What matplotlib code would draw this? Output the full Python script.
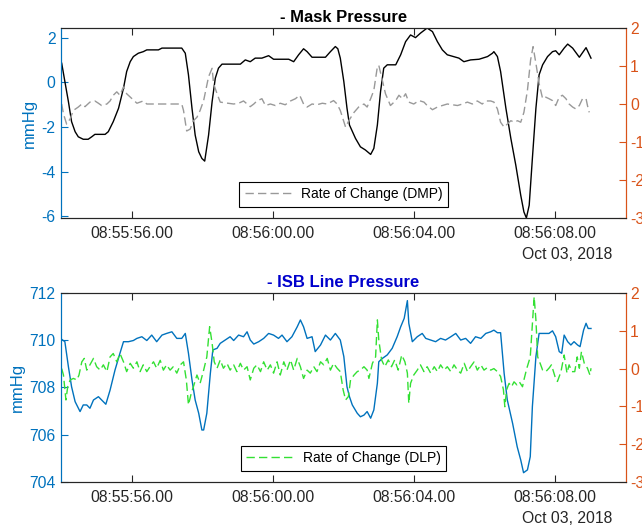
import datetime as dt

import matplotlib
matplotlib.use("Agg")
import matplotlib.pyplot as plt
import matplotlib.dates as mdates

plt.rcParams["font.family"] = ["Liberation Sans", "DejaVu Sans"]
plt.rcParams["axes.unicode_minus"] = False

# seconds after 08:55:54 on Oct 03, 2018
start = dt.datetime(2018, 10, 3, 8, 55, 54)

# mask pressure (mmHg) and its rate of change
mask_t = [0.02, 0.11, 0.21, 0.30, 0.40, 0.49, 0.63, 0.77, 0.87, 0.96, 1.25, 1.34, 1.48, 1.63,
          1.77, 1.86, 1.96, 2.05, 2.19, 2.33, 2.43, 2.76, 2.86, 3.42, 3.52, 3.61, 3.71, 3.80,
          3.90, 3.99, 4.07, 4.18, 4.28, 4.37, 4.46, 4.56, 5.08, 5.22, 5.36, 5.50, 5.69, 5.88,
          6.02, 6.45, 6.59, 6.73, 6.87, 6.97, 7.11, 7.49, 7.63, 7.77, 7.84, 7.91, 8.01, 8.10,
          8.17, 8.34, 8.48, 8.62, 8.77, 8.86, 8.96, 9.05, 9.14, 9.24, 9.48, 9.62, 9.76, 9.90,
          10.04, 10.18, 10.37, 10.52, 10.66, 10.80, 10.94, 11.27, 11.41, 11.60, 11.84, 12.08,
          12.22, 12.26, 12.36, 12.45, 12.60, 12.74, 12.88, 13.02, 13.11, 13.18, 13.26, 13.35,
          13.45, 13.54, 13.64, 13.78, 13.92, 14.01, 14.11, 14.25, 14.35, 14.49, 14.68, 14.87,
          15.01]
mask_v = [0.86, 0.04, -0.86, -1.76, -2.21, -2.44, -2.55, -2.55, -2.44, -2.33, -2.33, -2.21,
          -1.76, -1.16, -0.26, 0.49, 0.93, 1.16, 1.31, 1.38, 1.46, 1.46, 1.54, 1.54, 1.31, 0.34,
          -1.16, -2.36, -3.11, -3.41, -3.53, -2.36, -0.86, 0.19, 0.64, 0.82, 0.82, 1.01, 0.93,
          1.09, 1.09, 1.20, 1.04, 1.04, 0.93, 1.24, 1.51, 1.38, 1.13, 1.13, 1.38, 1.61, 1.51,
          1.09, 0.04, -1.16, -1.91, -2.51, -2.89, -3.03, -3.23, -2.96, -1.91, -0.41, 0.64, 0.79,
          0.79, 1.24, 1.83, 2.13, 2.01, 2.21, 2.44, 2.28, 1.83, 1.46, 1.24, 1.09, 0.93, 1.01,
          1.04, 1.16, 1.31, 1.38, 1.16, 0.49, -1.16, -2.51, -3.71, -5.06, -5.81, -6.08, -5.51,
          -3.41, -1.16, 0.34, 0.79, 1.16, 1.38, 1.42, 1.24, 1.54, 1.72, 1.54, 1.13, 1.56, 1.09]

dmp_t = [0.02, 0.07, 0.16, 0.26, 0.35, 0.49, 0.59, 0.68, 0.82, 0.96, 1.06, 1.15, 1.30, 1.39,
         1.48, 1.58, 1.67, 1.77, 1.86, 2.01, 2.15, 2.24, 2.33, 2.43, 3.42, 3.47, 3.56, 3.66,
         3.75, 3.85, 3.94, 4.04, 4.18, 4.28, 4.32, 4.42, 4.51, 4.65, 4.89, 5.03, 5.17, 5.27,
         5.36, 5.46, 5.55, 5.69, 5.79, 5.93, 6.07, 6.21, 6.35, 6.50, 6.64, 6.76, 6.87, 6.97,
         7.11, 7.25, 7.40, 7.54, 7.72, 7.82, 7.91, 8.06, 8.15, 8.30, 8.43, 8.58, 8.67, 8.77,
         8.86, 8.96, 9.00, 9.10, 9.19, 9.33, 9.48, 9.57, 9.67, 9.76, 9.85, 9.99, 10.14, 10.28,
         10.37, 10.52, 10.66, 10.80, 10.94, 11.08, 11.23, 11.37, 11.51, 11.65, 11.79, 11.93,
         12.03, 12.17, 12.26, 12.36, 12.45, 12.55, 12.64, 12.74, 12.84, 12.93, 13.02, 13.11,
         13.21, 13.30, 13.37, 13.45, 13.54, 13.64, 13.73, 13.82, 13.92, 14.01, 14.11, 14.20,
         14.30, 14.39, 14.49, 14.58, 14.68, 14.77, 14.87, 14.91, 14.96]
dmp_v = [0.0, -0.26, -0.53, -0.39, -0.17, -0.08, 0.0, -0.07, 0.05, 0.08, 0.02, -0.04, 0.0,
         0.08, 0.23, 0.32, 0.23, 0.45, 0.27, 0.14, 0.02, 0.05, 0.08, 0.0, 0.0, -0.17, -0.71,
         -0.66, -0.44, -0.35, -0.17, 0.09, 0.72, 0.94, 0.54, 0.27, 0.05, 0.03, 0.0, 0.02, 0.08,
         0.0, -0.07, 0.0, 0.08, 0.14, -0.04, 0.0, -0.04, 0.02, -0.02, 0.08, 0.14, 0.23, 0.0,
         -0.08, 0.0, -0.02, 0.02, 0.0, 0.09, 0.0, -0.17, -0.61, -0.44, -0.22, -0.08, 0.0,
         -0.08, 0.14, 0.36, 0.98, 1.02, 0.63, 0.27, -0.04, 0.09, 0.23, 0.14, 0.27, 0.05, 0.0,
         0.09, 0.05, -0.04, -0.15, -0.08, -0.04, 0.0, -0.02, -0.04, 0.0, 0.05, 0.0, 0.08, 0.0,
         0.08, 0.08, 0.05, -0.13, -0.48, -0.61, -0.53, -0.44, -0.48, -0.44, -0.48, -0.22,
         0.36, 1.16, 1.51, 1.07, 0.54, 0.14, 0.18, 0.14, 0.09, -0.04, 0.18, 0.23, 0.14, 0.0,
         -0.08, -0.13, -0.04, 0.14, 0.14, -0.04, -0.22]

# ISB line pressure (mmHg) and its rate of change
isb_t = [0.02, 0.11, 0.21, 0.30, 0.40, 0.54, 0.63, 0.73, 0.82, 0.92, 1.06, 1.15, 1.27, 1.39,
         1.53, 1.67, 1.77, 1.91, 2.05, 2.15, 2.29, 2.43, 2.57, 2.71, 2.86, 2.99, 3.14, 3.28,
         3.42, 3.52, 3.61, 3.71, 3.80, 3.90, 3.99, 4.04, 4.13, 4.23, 4.30, 4.42, 4.51, 4.65,
         4.79, 4.89, 5.03, 5.17, 5.27, 5.36, 5.46, 5.60, 5.74, 5.88, 6.02, 6.16, 6.26, 6.40,
         6.54, 6.69, 6.78, 6.87, 6.97, 7.11, 7.20, 7.35, 7.49, 7.63, 7.77, 7.91, 8.01, 8.10,
         8.17, 8.25, 8.39, 8.48, 8.58, 8.67, 8.77, 8.86, 8.96, 9.00, 9.10, 9.24, 9.38, 9.52,
         9.62, 9.72, 9.81, 9.85, 9.95, 10.09, 10.23, 10.33, 10.47, 10.61, 10.75, 10.89, 11.04,
         11.18, 11.32, 11.46, 11.60, 11.74, 11.89, 12.03, 12.17, 12.26, 12.36, 12.45, 12.55,
         12.64, 12.79, 12.92, 13.02, 13.10, 13.21, 13.29, 13.35, 13.45, 13.54, 13.68, 13.82,
         13.92, 14.01, 14.11, 14.18, 14.25, 14.35, 14.44, 14.53, 14.63, 14.70, 14.80, 14.87,
         14.93, 15.01]
isb_v = [710.04, 709.94, 708.88, 708.03, 707.40, 706.98, 707.26, 707.26, 707.12, 707.47,
         707.61, 707.47, 707.29, 707.89, 708.74, 709.45, 709.94, 709.94, 709.99, 710.08,
         710.15, 709.99, 710.22, 709.94, 710.22, 710.29, 710.36, 710.08, 710.08, 710.29,
         709.45, 708.32, 707.47, 706.91, 706.20, 706.20, 706.91, 708.60, 709.59, 709.66,
         709.87, 710.01, 710.15, 709.99, 710.22, 710.15, 710.36, 710.01, 709.84, 709.94,
         710.08, 710.29, 710.22, 710.08, 710.22, 709.94, 710.15, 710.57, 710.86, 710.57,
         710.08, 710.15, 709.52, 709.80, 710.22, 710.01, 710.29, 710.01, 709.31, 708.03,
         707.61, 707.26, 706.91, 706.76, 706.83, 706.98, 706.70, 707.05, 708.18, 709.09,
         709.23, 709.38, 709.66, 710.15, 710.57, 710.93, 711.68, 710.72, 709.94, 710.15,
         710.29, 710.08, 710.01, 709.94, 710.08, 710.01, 710.15, 710.29, 710.01, 710.08,
         709.87, 710.15, 710.08, 710.29, 710.36, 710.43, 710.32, 710.32, 708.60, 707.47,
         706.48, 705.49, 704.93, 704.39, 704.51, 705.07, 707.19, 709.31, 710.29, 710.29,
         710.29, 710.40, 710.15, 709.52, 709.45, 710.22, 709.94, 709.80, 709.94, 709.80,
         709.73, 710.43, 710.72, 710.50, 710.50]

dlp_t = [0.02, 0.07, 0.14, 0.19, 0.26, 0.35, 0.45, 0.51, 0.59, 0.66, 0.73, 0.82, 0.92, 1.01,
         1.11, 1.20, 1.30, 1.39, 1.48, 1.58, 1.67, 1.77, 1.86, 1.96, 2.05, 2.15, 2.24, 2.33,
         2.43, 2.52, 2.62, 2.71, 2.81, 2.90, 2.99, 3.09, 3.18, 3.28, 3.38, 3.47, 3.55, 3.61,
         3.69, 3.75, 3.85, 3.94, 4.04, 4.13, 4.21, 4.28, 4.34, 4.42, 4.51, 4.60, 4.70, 4.79,
         4.89, 4.98, 5.08, 5.17, 5.27, 5.36, 5.46, 5.55, 5.65, 5.74, 5.84, 5.93, 6.02, 6.12,
         6.21, 6.31, 6.40, 6.50, 6.59, 6.69, 6.78, 6.87, 6.97, 7.06, 7.16, 7.25, 7.35, 7.44,
         7.54, 7.63, 7.72, 7.82, 7.91, 7.99, 8.06, 8.14, 8.20, 8.30, 8.39, 8.48, 8.58, 8.67,
         8.72, 8.82, 8.91, 8.96, 9.00, 9.08, 9.17, 9.27, 9.36, 9.45, 9.55, 9.65, 9.74, 9.81,
         9.85, 9.90, 9.99, 10.09, 10.18, 10.28, 10.37, 10.47, 10.57, 10.66, 10.75, 10.85,
         10.94, 11.04, 11.13, 11.23, 11.32, 11.42, 11.51, 11.60, 11.70, 11.79, 11.89, 11.98,
         12.08, 12.17, 12.26, 12.36, 12.45, 12.53, 12.57, 12.62, 12.69, 12.76, 12.83, 12.91,
         12.98, 13.07, 13.11, 13.19, 13.29, 13.35, 13.40, 13.45, 13.50, 13.57, 13.64, 13.73,
         13.82, 13.89, 13.99, 14.06, 14.16, 14.25, 14.33, 14.39, 14.47, 14.55, 14.62, 14.68,
         14.74, 14.82, 14.91, 14.98, 15.01]
dlp_v = [0.0, -0.17, -0.83, -0.48, -0.30, -0.26, -0.30, -0.17, 0.18, 0.27, -0.04, 0.10, 0.27,
         0.05, -0.04, 0.10, -0.08, 0.31, 0.40, 0.18, 0.40, 0.18, -0.08, 0.14, 0.01, 0.18,
         -0.08, 0.10, -0.08, 0.05, 0.18, 0.01, 0.22, -0.04, 0.10, -0.04, 0.05, -0.12, 0.10,
         0.18, -0.30, -0.96, -0.65, -0.48, -0.17, -0.39, -0.04, 0.31, 1.11, 0.67, 0.18, 0.01,
         0.23, 0.01, 0.14, -0.04, 0.10, -0.08, 0.14, -0.04, 0.05, -0.30, 0.01, 0.10, -0.08,
         0.18, -0.04, 0.10, -0.12, 0.18, -0.17, 0.18, -0.04, 0.23, -0.04, 0.27, 0.05, -0.26,
         -0.04, -0.12, 0.05, -0.08, 0.18, 0.10, 0.27, -0.04, 0.14, 0.01, -0.08, -0.56, -0.83,
         -0.74, -0.30, -0.17, -0.08, -0.04, 0.05, -0.04, -0.26, 0.14, 0.31, 1.29, 0.76, 0.23,
         0.05, 0.23, 0.05, 0.23, -0.04, 0.36, 0.18, -0.12, -0.92, -0.39, -0.17, -0.04, 0.10,
         -0.08, 0.05, -0.12, 0.05, -0.08, 0.10, -0.04, 0.05, -0.08, 0.10, -0.04, -0.12, 0.14,
         -0.08, 0.05, 0.18, -0.04, 0.10, -0.04, 0.03, -0.04, 0.0, -0.08, -0.21, -0.56, -1.01,
         -0.56, -0.39, -0.48, -0.35, -0.43, -0.35, -0.48, -0.30, 0.0, 0.31, 1.20, 1.90, 1.29,
         0.31, 0.14, -0.04, -0.08, 0.01, 0.10, -0.21, -0.34, -0.08, 0.36, -0.12, 0.10, -0.08,
         -0.08, 0.31, 0.01, 0.45, 0.14, 0.01, -0.17, 0.01]

BLUE = (0, 0.447, 0.741)
ORANGE = (0.85, 0.325, 0.098)
DARK = (0.15, 0.15, 0.15)


def stamp(secs):
    return [start + dt.timedelta(seconds=s) for s in secs]


def pressure_panel(rect, title, title_color, t, v, dt_, dv, ylims, dash_color, dash_label, main_color):
    ax = fig.add_axes(rect)
    ax.plot(stamp(t), v, color=main_color, lw=1.0)
    ax.set_ylim(*ylims)
    ax.set_xlim(start, start + dt.timedelta(seconds=16))
    ax.xaxis.set_major_locator(mdates.SecondLocator(bysecond=range(0, 60, 4)))
    ax.xaxis.set_major_formatter(mdates.DateFormatter("%H:%M:%S.00"))
    ax.tick_params(axis="x", direction="in", top=True, length=5, width=0.8,
                   labelsize=11.3, labelcolor=DARK, color=DARK, pad=6)
    ax.tick_params(axis="y", direction="in", length=5, width=0.8, labelsize=11.3,
                   colors=BLUE, pad=4)
    ax.set_ylabel("mmHg", color=BLUE, fontsize=12, labelpad=3)
    ax.set_title(title, fontsize=12, fontweight="bold", color=title_color, pad=4.5)

    rate = ax.twinx()
    rate.plot(stamp(dt_), dv, color=dash_color, lw=1.0, dashes=(6, 3), label=dash_label)
    rate.set_ylim(-3, 2)
    rate.set_yticks([-3, -2, -1, 0, 1, 2])
    rate.tick_params(axis="y", direction="in", length=5, width=0.8, labelsize=11.3,
                     colors=ORANGE, pad=3)
    for a in (ax, rate):
        a.spines["top"].set_color(DARK)
        a.spines["bottom"].set_color(DARK)
        a.spines["left"].set_color(BLUE)
        a.spines["right"].set_color(ORANGE)
        for s in a.spines.values():
            s.set_linewidth(0.8)
    leg = rate.legend(loc="lower center", fontsize=10, handlelength=3.4, handletextpad=0.65,
                      fancybox=False, framealpha=1, edgecolor="black", borderaxespad=0.8)
    leg.get_frame().set_linewidth(0.8)
    ax.annotate("Oct 03, 2018", xy=(0.975, 0), xycoords="axes fraction", xytext=(0, -26),
                textcoords="offset points", ha="right", va="center", fontsize=11.3, color=DARK)
    return ax


fig = plt.figure(figsize=(6.42, 5.29), dpi=100)

pressure_panel([0.095, 0.588, 0.880, 0.359], "- Mask Pressure", "black",
               mask_t, mask_v, dmp_t, dmp_v, (min(mask_v), max(mask_v)),
               (0.6, 0.6, 0.6), "Rate of Change (DMP)", "black")

pressure_panel([0.095, 0.089, 0.880, 0.357], "- ISB Line Pressure", (0, 0, 0.8),
               isb_t, isb_v, dlp_t, dlp_v, (704, 712),
               (0.2, 0.88, 0.2), "Rate of Change (DLP)", BLUE)

fig.savefig("out.png", dpi=100)
